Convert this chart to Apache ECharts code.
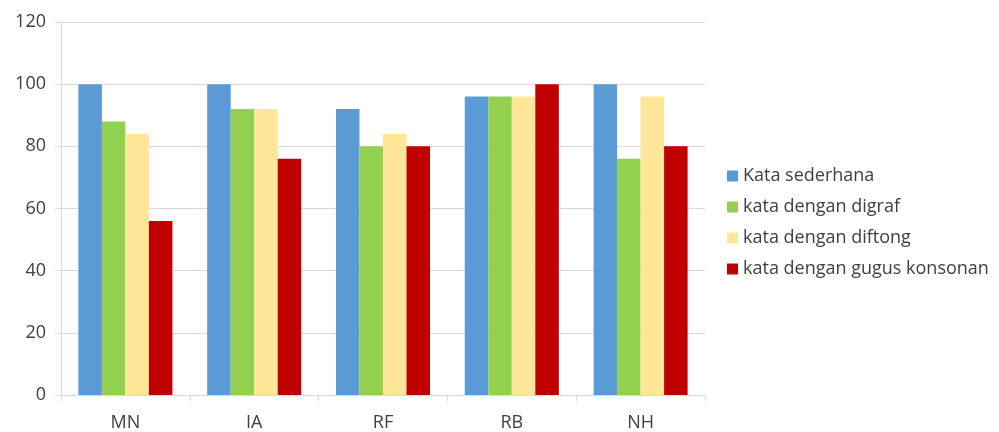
<!DOCTYPE html>
<html><head><meta charset="utf-8">
<script src="https://cdn.jsdelivr.net/npm/echarts@6/dist/echarts.min.js"></script>
<style>html,body{margin:0;padding:0;background:#fff}#c{width:999px;height:432px}</style>
</head><body><div id="c"></div>
<script>
const categories = ['MN','IA','RF','RB','NH'];
const seriesNames = ['Kata sederhana','kata dengan digraf','kata dengan diftong','kata dengan gugus konsonan'];
const kataSederhana = [100,100,92,96,100];
const kataDigraf = [88,92,80,96,76];
const kataDiftong = [84,92,84,96,96];
const kataGugus = [56,76,80,100,80];
const colors = ['#5B9BD5','#92D050','#FFE699','#C00000'];
const values = [kataSederhana,kataDigraf,kataDiftong,kataGugus];
const chart = echarts.init(document.getElementById('c'));
chart.setOption({
  animation:false,
  textStyle:{fontFamily:'Open Sans'},
  grid:{left:61,right:294,top:22,bottom:37,containLabel:false},
  legend:{orient:'vertical',left:722,top:162,itemWidth:11,itemHeight:11,itemGap:13,
    icon:'rect',textStyle:{fontSize:18,color:'#404040',fontFamily:'Open Sans'},data:seriesNames},
  xAxis:{type:'category',data:categories,
    axisLine:{lineStyle:{color:'#D9D9D9'}},
    axisTick:{show:true,length:6,lineStyle:{color:'#D9D9D9'}},
    axisLabel:{fontSize:18,color:'#404040',margin:19}},
  yAxis:{type:'value',min:0,max:120,interval:20,
    axisLine:{show:true,lineStyle:{color:'#D9D9D9'}},
    axisTick:{show:true,length:6,inside:false,lineStyle:{color:'#D9D9D9'}},
    splitLine:{lineStyle:{color:'#D9D9D9'}},
    axisLabel:{fontSize:18,color:'#404040',margin:15}},
  series: values.map((v,i)=>({name:seriesNames[i],type:'bar',data:v,
    itemStyle:{color:colors[i]},barGap:'0%',barCategoryGap:'27%'}))
});
</script></body></html>
